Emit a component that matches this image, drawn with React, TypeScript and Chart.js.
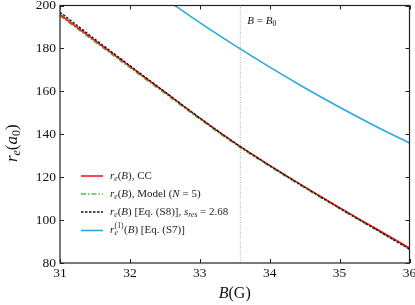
import React, { useEffect, useRef } from "react";
import { Chart, registerables } from "chart.js";

Chart.register(...registerables);

const bValues = [31, 31.5, 32, 32.5, 33, 33.5, 34, 34.5, 35, 35.5, 36];
const ccValues = [195.8, 183.6, 171.6, 159.6, 147.5, 136.0, 125.5, 115.5, 105.8, 96.4, 87.0];
const modelValues = [195.2, 183.0, 171.0, 159.0, 147.0, 135.5, 125.0, 115.0, 105.3, 95.9, 86.5];
const eqS8Values = [196.9, 184.3, 172.0, 159.8, 147.6, 136.0, 125.4, 115.3, 105.5, 96.0, 86.4];
const bFirstOrder = [32.5, 33, 33.5, 34, 34.5, 35, 35.5, 36];
const firstOrderValues = [203.2, 192.0, 181.4, 171.3, 161.7, 152.6, 144.0, 135.9];
const B0 = 33.58;
const xTicks = [31, 32, 33, 34, 35, 36];
const yTicks = [80, 100, 120, 140, 160, 180, 200];

const SERIF = "'Liberation Serif', 'DejaVu Serif', serif";

type Seg = { t: string; i?: boolean; sub?: boolean; sup?: boolean };

function segFont(s: Seg, size: number) {
  const sz = s.sub || s.sup ? size * 0.7 : size;
  return `${s.i ? "italic " : ""}${sz}px ${SERIF}`;
}
function richWidth(ctx: CanvasRenderingContext2D, segs: Seg[], size: number) {
  let w = 0;
  for (const s of segs) {
    ctx.font = segFont(s, size);
    w += ctx.measureText(s.t).width;
  }
  return w;
}
function drawRich(ctx: CanvasRenderingContext2D, x: number, y: number, segs: Seg[], size: number) {
  ctx.textBaseline = "middle";
  ctx.textAlign = "left";
  let cx = x;
  for (const s of segs) {
    ctx.font = segFont(s, size);
    let dy = 0;
    if (s.sub) dy = size * 0.25;
    if (s.sup) dy = -size * 0.38;
    ctx.fillText(s.t, cx, y + dy);
    cx += ctx.measureText(s.t).width;
  }
}

const LEG = 11;

const legendItems: { segs: Seg[]; color: string; dash: number[]; width: number }[] = [
  {
    segs: [{ t: "r", i: true }, { t: "e", i: true, sub: true }, { t: "(" }, { t: "B", i: true }, { t: "), CC" }],
    color: "#ee1c24",
    dash: [],
    width: 1.6,
  },
  {
    segs: [
      { t: "r", i: true }, { t: "e", i: true, sub: true }, { t: "(" }, { t: "B", i: true },
      { t: "), Model (" }, { t: "N", i: true }, { t: " = 5)" },
    ],
    color: "#3ec83e",
    dash: [5, 2, 1.5, 2],
    width: 1.5,
  },
  {
    segs: [
      { t: "r", i: true }, { t: "e", i: true, sub: true }, { t: "(" }, { t: "B", i: true },
      { t: ") [Eq. (S8)], " }, { t: "s", i: true }, { t: "res", i: true, sub: true }, { t: " = 2.68" },
    ],
    color: "#111111",
    dash: [2.5, 1.5],
    width: 1.3,
  },
  {
    segs: [{ t: "(" }, { t: "B", i: true }, { t: ") [Eq. (S7)]" }],
    color: "#27aae1",
    dash: [],
    width: 1.6,
  },
];

const decorPlugin = {
  id: "decor",
  afterDraw(chart: any) {
    const ctx: CanvasRenderingContext2D = chart.ctx;
    const { left, right, top, bottom } = chart.chartArea;
    const xs = chart.scales.x;
    const ys = chart.scales.y;
    ctx.save();
    ctx.strokeStyle = "#222";
    ctx.lineWidth = 1.2;
    ctx.setLineDash([]);
    ctx.strokeRect(left, top, right - left, bottom - top);
    ctx.lineWidth = 1;
    ctx.beginPath();
    for (const v of xTicks) {
      const px = Math.round(xs.getPixelForValue(v)) + 0.5;
      ctx.moveTo(px, bottom); ctx.lineTo(px, bottom - 4);
      ctx.moveTo(px, top); ctx.lineTo(px, top + 4);
    }
    for (const v of yTicks) {
      const py = Math.round(ys.getPixelForValue(v)) + 0.5;
      ctx.moveTo(left, py); ctx.lineTo(left + 4, py);
      ctx.moveTo(right, py); ctx.lineTo(right - 4, py);
    }
    ctx.stroke();

    ctx.fillStyle = "#111";
    drawRich(ctx, xs.getPixelForValue(B0) + 7, top + 16, [
      { t: "B", i: true }, { t: " = " }, { t: "B", i: true }, { t: "0", sub: true },
    ], 11);

    const xt: Seg[] = [{ t: "B", i: true }, { t: "(G)" }];
    const xw = richWidth(ctx, xt, 16);
    drawRich(ctx, (left + right) / 2 - xw / 2, 294, xt, 16);

    const yt: Seg[] = [{ t: "r", i: true }, { t: "e", i: true, sub: true }, { t: "(" }, { t: "a", i: true }, { t: "0", sub: true }, { t: ")" }];
    const yw = richWidth(ctx, yt, 17);
    ctx.save();
    ctx.translate(13, (top + bottom) / 2 + 9);
    ctx.rotate(-Math.PI / 2);
    drawRich(ctx, -yw / 2, 0, yt, 17);
    ctx.restore();

    const rowsY = [176, 194, 212, 230.5];
    legendItems.forEach((it, k) => {
      const y = rowsY[k];
      ctx.strokeStyle = it.color;
      ctx.lineWidth = it.width;
      ctx.setLineDash(it.dash);
      ctx.beginPath();
      ctx.moveTo(81, y);
      ctx.lineTo(103, y);
      ctx.stroke();
      ctx.setLineDash([]);
      ctx.fillStyle = "#222";
      if (k === 3) {
        ctx.textBaseline = "middle";
        ctx.textAlign = "left";
        ctx.font = `italic ${LEG}px ${SERIF}`;
        ctx.fillText("r", 110, y);
        const rw = ctx.measureText("r").width;
        ctx.font = `${LEG * 0.7}px ${SERIF}`;
        ctx.fillText("(1)", 110 + rw + 0.3, y - 4.2);
        const sw = ctx.measureText("(1)").width;
        ctx.font = `italic ${LEG * 0.7}px ${SERIF}`;
        ctx.fillText("e", 110 + rw + 0.3, y + 2.9);
        drawRich(ctx, 110 + rw + sw + 0.8, y, it.segs, LEG);
      } else {
        drawRich(ctx, 110, y, it.segs, LEG);
      }
    });
    ctx.restore();
  },
};

export default function App() {
  const ref = useRef<HTMLCanvasElement | null>(null);
  useEffect(() => {
    if (!ref.current) return;
    const pts = (xs: number[], ys: number[]) => xs.map((x, i) => ({ x, y: ys[i] }));
    const chart = new Chart(ref.current, {
      type: "line",
      data: {
        datasets: [
          {
            data: pts(bValues, ccValues),
            borderColor: "#ee1c24",
            borderWidth: 1.6,
            pointRadius: 0,
            cubicInterpolationMode: "monotone",
            order: 2,
            clip: 0,
          } as any,
          {
            data: pts(bValues, modelValues),
            borderColor: "#3ec83e",
            borderWidth: 1.5,
            borderDash: [5, 2, 1.5, 2],
            pointRadius: 0,
            cubicInterpolationMode: "monotone",
            order: 3,
            clip: 0,
          },
          {
            data: pts(bValues, eqS8Values),
            borderColor: "#111111",
            borderWidth: 1.3,
            borderDash: [2.5, 1.5],
            pointRadius: 0,
            cubicInterpolationMode: "monotone",
            order: 1,
            clip: 0,
          },
          {
            data: pts(bFirstOrder, firstOrderValues),
            borderColor: "#27aae1",
            borderWidth: 1.6,
            pointRadius: 0,
            cubicInterpolationMode: "monotone",
            order: 4,
            clip: 0,
          },
          {
            data: [{ x: B0, y: 80 }, { x: B0, y: 200 }],
            borderColor: "#9a9a9a",
            borderWidth: 0.8,
            borderDash: [1, 1.5],
            pointRadius: 0,
            order: 5,
            clip: 0,
          },
        ],
      },
      options: {
        animation: false,
        responsive: false,
        maintainAspectRatio: false,
        layout: { padding: { top: 5.5, right: 5.5, left: 0, bottom: 0 } },
        plugins: { legend: { display: false }, tooltip: { enabled: false } },
        scales: {
          x: {
            type: "linear",
            min: 31,
            max: 36,
            grid: { display: false, drawTicks: false },
            border: { display: false },
            ticks: {
              stepSize: 1,
              padding: 2,
              color: "#111",
              font: { family: SERIF, size: 13.5 },
              maxRotation: 0,
            },
            afterFit: (s: any) => {
              s.height = 42;
              s.paddingLeft = 0;
              s.paddingRight = 0;
            },
          },
          y: {
            type: "linear",
            min: 80,
            max: 200,
            grid: { display: false, drawTicks: false },
            border: { display: false },
            ticks: {
              stepSize: 20,
              padding: 4,
              color: "#111",
              font: { family: SERIF, size: 13.5 },
            },
            afterFit: (s: any) => {
              s.width = 60;
              s.paddingTop = 0;
              s.paddingBottom = 0;
            },
          },
        },
      },
      plugins: [decorPlugin],
    });
    return () => chart.destroy();
  }, []);
  return (
    <div style={{ position: "fixed", left: 0, top: 0, width: 415, height: 305, background: "#fff" }}>
      <canvas ref={ref} width={415} height={305} style={{ width: 415, height: 305 }} />
    </div>
  );
}
